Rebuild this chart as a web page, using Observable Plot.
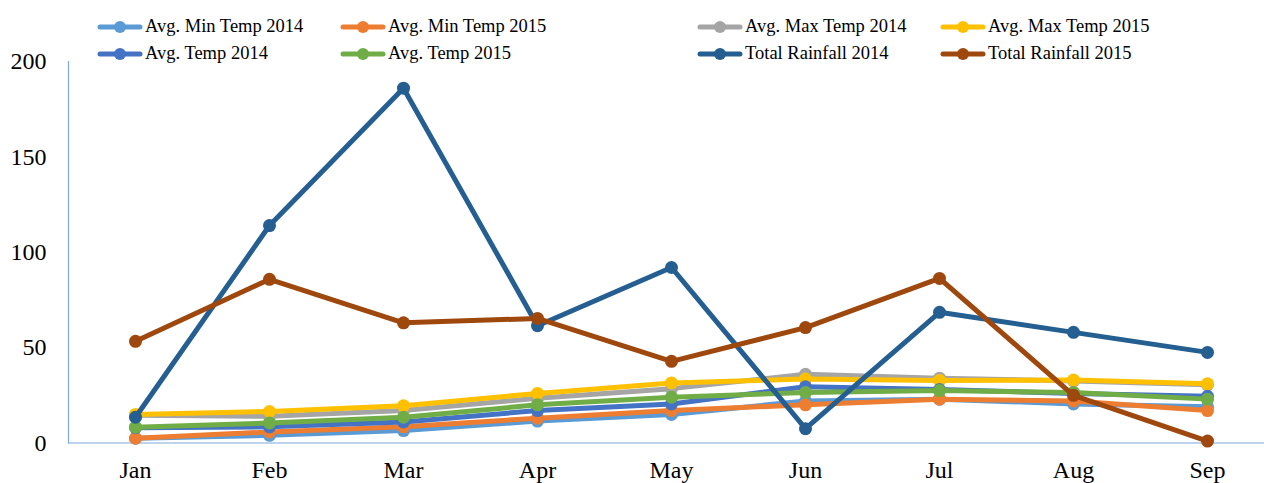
<!DOCTYPE html>
<html><head><meta charset="utf-8">
<script src="https://cdn.jsdelivr.net/npm/d3@7"></script>
<script src="https://cdn.jsdelivr.net/npm/@observablehq/plot@0.6"></script>
<style>
body{margin:0;background:#fff;width:1264px;height:483px;overflow:hidden;position:relative;font-family:"Liberation Serif","Times New Roman",serif}
#chart{position:absolute;left:0;top:0}
#legend{position:absolute;left:97px;top:13px;display:grid;grid-template-columns:243px 357px 243px 300px;grid-auto-rows:27px;font-size:18.5px;z-index:2;color:#000;font-family:"Liberation Serif","Times New Roman",serif}
.item{display:flex;align-items:center;white-space:nowrap}
.item svg{margin-right:2px;flex:none}
</style></head><body>
<div id="chart"></div><div id="legend"></div>
<script>
const months = ["Jan","Feb","Mar","Apr","May","Jun","Jul","Aug","Sep"];
const yTicks = [0, 50, 100, 150, 200];

const minTemp2014 = [2.5, 4, 6.5, 11.5, 15, 22, 23, 20.5, 19];
const minTemp2015 = [2.5, 5.8, 8.5, 13, 17, 20, 23, 22, 17];
const maxTemp2014 = [14.5, 14, 17, 23.5, 28.5, 36, 34, 32.5, 30.5];
const maxTemp2015 = [15, 16.5, 19.5, 26, 31.5, 33.5, 32.8, 33, 31];
const avgTemp2014 = [8, 8.5, 11, 17, 20.5, 29.5, 28, 26, 24.5];
const avgTemp2015 = [8.3, 10.5, 13.5, 20, 24, 26.5, 27.5, 26.5, 23];
const rainfall2014 = [13.5, 114, 186, 61.5, 92, 7.5, 68.5, 58, 47.5];
const rainfall2015 = [53.3, 85.8, 63, 65.3, 42.8, 60.5, 86.3, 25, 1];

const seriesNames = ["Avg. Min Temp 2014","Avg. Min Temp 2015","Avg. Max Temp 2014","Avg. Max Temp 2015","Avg. Temp 2014","Avg. Temp 2015","Total Rainfall 2014","Total Rainfall 2015"];
const seriesValues = [minTemp2014, minTemp2015, maxTemp2014, maxTemp2015, avgTemp2014, avgTemp2015, rainfall2014, rainfall2015];
const seriesColors = ["#5B9BD5","#ED7D31","#A5A5A5","#FFC000","#4472C4","#70AD47","#255E91","#9E480E"];

const rows = seriesNames.flatMap((name, k) => months.map((m, i) => ({series: name, month: m, value: seriesValues[k][i]})));
const axisColor = "#7fa9dc";

const seriesMarks = seriesNames.flatMap((name, k) => {
  const d = rows.filter(r => r.series === name);
  return [
    Plot.line(d, {x: "month", y: "value", stroke: seriesColors[k], strokeWidth: 5}),
    Plot.dot(d, {x: "month", y: "value", r: 6.5, fill: seriesColors[k], stroke: "none"})
  ];
});

const chart = Plot.plot({
  width: 1264,
  height: 483,
  marginLeft: 68,
  marginRight: 0,
  marginTop: 61,
  marginBottom: 40.5,
  x: {type: "point", domain: months, range: [135, 1207], padding: 0},
  y: {domain: [0, 200]},
  style: {fontFamily: "'Liberation Serif','Times New Roman',serif", fontSize: "24px", color: "#000", background: "transparent", overflow: "visible"},
  marks: [
    Plot.ruleY([0], {stroke: axisColor, strokeWidth: 1.2}),
    Plot.frame({anchor: "left", stroke: axisColor, strokeWidth: 1.2}),
    Plot.axisY({ticks: yTicks, tickSize: 0, tickPadding: 22, fontSize: 24, label: null}),
    Plot.axisX({tickSize: 0, tickPadding: 18, fontSize: 24, label: null}),
    ...seriesMarks
  ]
});
document.getElementById("chart").appendChild(chart);

const legend = document.getElementById("legend");
seriesNames.forEach((name, k) => {
  const item = document.createElement("div");
  item.className = "item";
  item.innerHTML = `<svg width="46" height="14"><line x1="3" y1="7" x2="43" y2="7" stroke="${seriesColors[k]}" stroke-width="5" stroke-linecap="round"/><circle cx="23" cy="7" r="6" fill="${seriesColors[k]}"/></svg><span></span>`;
  item.querySelector("span").textContent = name;
  legend.appendChild(item);
});
</script></body></html>
